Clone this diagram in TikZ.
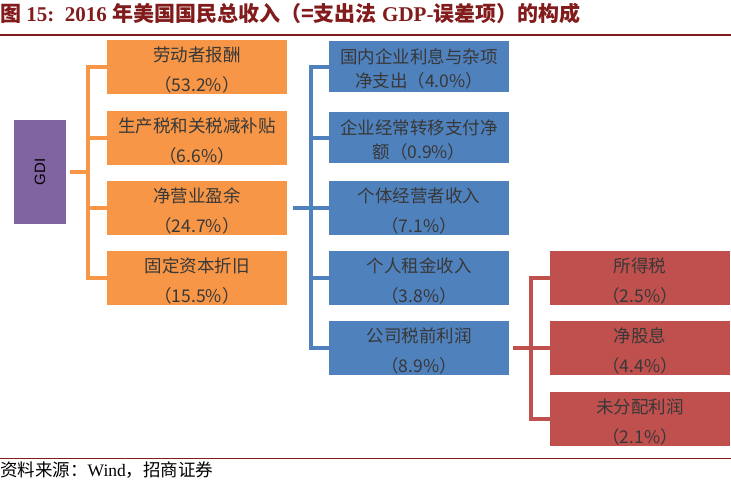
\documentclass[tikz,border=0pt]{standalone}
\usepackage{fontspec}
\setmainfont{Liberation Serif}
\newfontfamily\cjk{Noto Sans CJK SC}
\newfontfamily\arialf{Liberation Sans}
\definecolor{cOrange}{RGB}{247,150,70}
\definecolor{cBlue}{RGB}{79,129,189}
\definecolor{cRed}{RGB}{192,80,77}
\definecolor{cPurple}{RGB}{128,100,162}
\definecolor{cTitle}{RGB}{130,28,28}
\newcommand\bxstrut{\rule{0pt}{21.5pt}}
\newcommand\bxstrutt{\rule{0pt}{18.5pt}}
\begin{document}
\begin{tikzpicture}[x=1pt,y=-1pt,
  box/.style={rectangle, minimum width=180pt, minimum height=51pt, inner sep=0pt,
    align=center, text=black!78, font=\cjk\fontsize{17.5}{30}\selectfont},
  obox/.style={box, fill=cOrange},
  bbox/.style={box, fill=cBlue},
  bboxt/.style={box, fill=cBlue, font=\cjk\fontsize{17.5}{24}\selectfont},
  rbox/.style={box, fill=cRed},
  br/.style={line width=4pt, line join=miter},
  obr/.style={br, draw=cOrange},
  bbr/.style={br, draw=cBlue},
  rbr/.style={br, draw=cRed}]
\useasboundingbox (0,0) rectangle (731,481);
% title
\node[anchor=west, inner sep=0pt, text=cTitle, font=\fontsize{21}{24}\selectfont\bfseries] (title) at (0,14)
  {{\cjk\bfseries 图} 15:\ \ 2016 {\cjk\bfseries 年美国国民总收入（=支出法} GDP-{\cjk\bfseries 误差项）的构成}};
\draw[cTitle, line width=2.6pt] (0,35) -- (731,35);
% GDI
\node[rectangle, fill=cPurple, minimum width=52pt, minimum height=104pt, inner sep=0pt] (gdi) at (40,172) {};
\node[rotate=90, font=\arialf\fontsize{15}{16}\selectfont, inner sep=0pt] (gdit) at (gdi.center) {GDI};
% orange column
\node[obox] (o1) at (197,67) {\bxstrut 劳动者报酬\\（53.2\%）};
\node[obox] (o2) at (197,138) {\bxstrut 生产税和关税减补贴\\（6.6\%）};
\node[obox] (o3) at (197,208) {\bxstrut 净营业盈余\\（24.7\%）};
\node[obox] (o4) at (197,278) {\bxstrut 固定资本折旧\\（15.5\%）};
% blue column
\node[bboxt] (b1) at (419,67) {\bxstrutt 国内企业利息与杂项\\净支出（4.0\%）};
\node[bboxt] (b2) at (419,138) {\bxstrutt 企业经常转移支付净\\额（0.9\%）};
\node[bbox] (b3) at (419,208) {\bxstrut 个体经营者收入\\（7.1\%）};
\node[bbox] (b4) at (419,278) {\bxstrut 个人租金收入\\（3.8\%）};
\node[bbox] (b5) at (419,348) {\bxstrut 公司税前利润\\（8.9\%）};
% red column
\node[rbox] (r1) at (640,278) {\bxstrut 所得税\\（2.5\%）};
\node[rbox] (r2) at (640,348) {\bxstrut 净股息\\（4.4\%）};
\node[rbox] (r3) at (640,419) {\bxstrut 未分配利润\\（2.1\%）};
% bracket spines
\coordinate (ob) at (88,0);
\coordinate (bb) at (311,0);
\coordinate (rb) at (531,0);
% orange bracket
\draw[obr] (o1.west) -- (o1.west -| ob) -- (o4.west -| ob) -- (o4.west);
\draw[obr] (o2.west) -- (o2.west -| ob);
\draw[obr] (o3.west) -- (o3.west -| ob);
\draw[obr] ([xshift=4pt]gdi.east) -- (gdi.east -| ob);
% blue bracket
\draw[bbr] (b1.west) -- (b1.west -| bb) -- (b5.west -| bb) -- (b5.west);
\draw[bbr] (b2.west) -- (b2.west -| bb);
\draw[bbr] (b3.west) -- (b3.west -| bb);
\draw[bbr] (b4.west) -- (b4.west -| bb);
\draw[bbr] ([xshift=6pt]o3.east) -- (o3.east -| bb);
% red bracket
\draw[rbr] (r1.west) -- (r1.west -| rb) -- (r3.west -| rb) -- (r3.west);
\draw[rbr] (r2.west) -- (r2.west -| rb);
\draw[rbr] ([xshift=4pt]b5.east) -- (b5.east -| rb);
% footer
\draw[cTitle, line width=1pt] (0,458) -- (731,458);
\node[anchor=west, inner sep=0pt, font=\fontsize{17.5}{19}\selectfont] (src) at (0,470)
  {{\cjk 资料来源：}Wind{\cjk ，招商证券}};
\end{tikzpicture}
\end{document}
